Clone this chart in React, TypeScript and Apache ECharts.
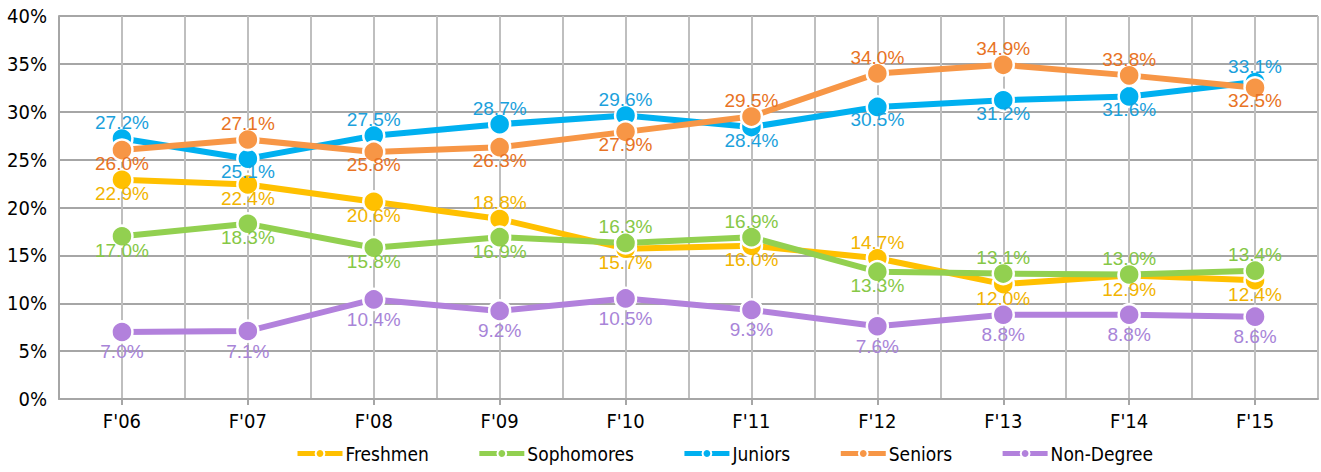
import React, { useEffect, useRef } from "react";
import * as echarts from "echarts";

const categories = ["F'06", "F'07", "F'08", "F'09", "F'10", "F'11", "F'12", "F'13", "F'14", "F'15"];
const freshmen = [22.9, 22.4, 20.6, 18.8, 15.7, 16.0, 14.7, 12.0, 12.9, 12.4];
const sophomores = [17.0, 18.3, 15.8, 16.9, 16.3, 16.9, 13.3, 13.1, 13.0, 13.4];
const juniors = [27.2, 25.1, 27.5, 28.7, 29.6, 28.4, 30.5, 31.2, 31.6, 33.1];
const seniors = [26.0, 27.1, 25.8, 26.3, 27.9, 29.5, 34.0, 34.9, 33.8, 32.5];
const nonDegree = [7.0, 7.1, 10.4, 9.2, 10.5, 9.3, 7.6, 8.8, 8.8, 8.6];
const yTicks = [0, 5, 10, 15, 20, 25, 30, 35, 40];

// label side per point: "T" above, "B" below
const sideFreshmen = ["B", "B", "B", "T", "B", "B", "T", "B", "B", "B"];
const sideSophomores = ["B", "B", "B", "B", "T", "T", "B", "T", "T", "T"];
const sideJuniors = ["T", "B", "T", "T", "T", "B", "B", "B", "B", "T"];
const sideSeniors = ["B", "T", "B", "B", "B", "T", "T", "T", "T", "B"];
const sideNonDegree = ["B", "B", "B", "B", "B", "B", "B", "B", "B", "B"];

const AXIS_FONT = "'DejaVu Sans Condensed', 'Liberation Sans Narrow', sans-serif";
const LABEL_FONT = "'Liberation Sans', Arial, sans-serif";

function makeSeries(name: string, values: number[], sides: string[], color: string, labelColor: string, below: number) {
  return {
    name,
    type: "line",
    data: values.map((v, i) => ({
      value: v,
      label: {
        position: "inside",
        offset: [0, sides[i] === "T" ? -16 : below],
      },
    })),
    xAxisIndex: 0,
    yAxisIndex: 0,
    symbol: "circle",
    symbolSize: 21,
    lineStyle: { color, width: 6 },
    itemStyle: { color, borderColor: "#ffffff", borderWidth: 2.5 },
    label: {
      show: true,
      color: labelColor,
      fontFamily: LABEL_FONT,
      fontSize: 19,
      formatter: (p: any) => p.value.toFixed(1) + "%",
    },
  };
}

export default function App() {
  const ref = useRef<HTMLDivElement>(null);
  useEffect(() => {
    if (!ref.current) return;
    const chart = echarts.init(ref.current, null, { renderer: "svg" });
    chart.setOption({
      animation: false,
      backgroundColor: "#ffffff",
      grid: { left: 59, right: 3, top: 16, bottom: 73, containLabel: false },
      legend: {
        bottom: 4,
        left: 290,
        itemGap: 48,
        itemWidth: 45,
        itemHeight: 11,
        lineStyle: { width: 5 },
        textStyle: { fontFamily: AXIS_FONT, fontSize: 19, color: "#000", padding: [0, 0, 0, -2] },
        data: ["Freshmen", "Sophomores", "Juniors", "Seniors", "Non-Degree"],
      },
      xAxis: [
        {
          type: "category",
          data: categories,
          boundaryGap: true,
          axisLine: { lineStyle: { color: "#a6a6a6", width: 2 } },
          axisTick: { show: true, alignWithLabel: true, length: 6, lineStyle: { color: "#a6a6a6", width: 2 } },
          splitLine: { show: false },
          axisLabel: { color: "#000", fontFamily: AXIS_FONT, fontSize: 20, margin: 12 },
        },
        {
          type: "value",
          min: 0,
          max: 20,
          interval: 1,
          position: "bottom",
          axisLine: { show: false },
          axisTick: { show: false },
          axisLabel: { show: false },
          splitLine: { show: true, lineStyle: { color: "#bfbfbf", width: 2 } },
        },
      ],
      yAxis: {
        type: "value",
        min: 0,
        max: 40,
        interval: 5,
        axisLine: { show: true, lineStyle: { color: "#a6a6a6", width: 2 } },
        axisTick: { show: false },
        splitLine: { show: true, lineStyle: { color: "#a6a6a6", width: 2 } },
        axisLabel: {
          color: "#000",
          fontFamily: AXIS_FONT,
          fontSize: 20,
          margin: 12,
          formatter: (v: number) => (yTicks.includes(v) ? v + "%" : ""),
        },
      },
      series: [
        makeSeries("Freshmen", freshmen, sideFreshmen, "#ffc000", "#f2b400", 14),
        makeSeries("Sophomores", sophomores, sideSophomores, "#92d050", "#86c846", 14),
        makeSeries("Juniors", juniors, sideJuniors, "#00b0f0", "#1ba1dc", 13),
        makeSeries("Seniors", seniors, sideSeniors, "#f79646", "#e87324", 13),
        makeSeries("Non-Degree", nonDegree, sideNonDegree, "#b281dc", "#a884d8", 20),
      ],
    });
    return () => chart.dispose();
  }, []);
  return <div ref={ref} style={{ position: "absolute", left: 0, top: 0, width: 1321, height: 472 }} />;
}
